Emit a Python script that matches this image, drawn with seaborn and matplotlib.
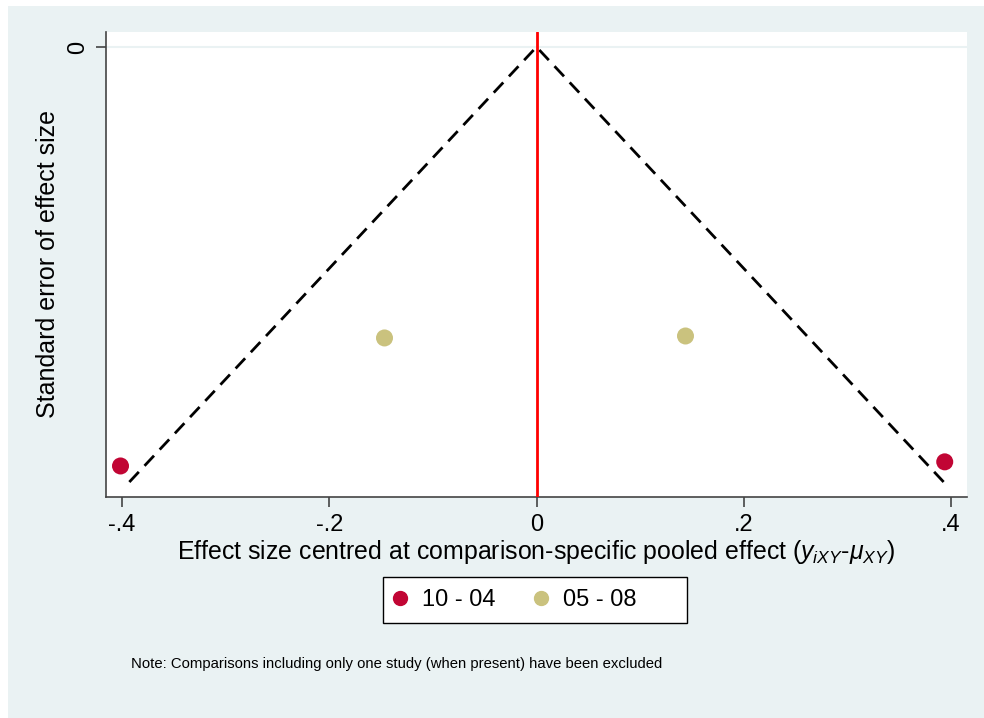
import numpy as np
import pandas as pd
import matplotlib
matplotlib.use('Agg')
import matplotlib.pyplot as plt
from matplotlib.patches import Rectangle
import seaborn as sns

# data
effect = [-0.4015, 0.394, -0.1467, 0.1438]
se = [0.1931, 0.1912, 0.1341, 0.1332]
group = ['10 - 04', '10 - 04', '05 - 08', '05 - 08']
groups = ['10 - 04', '05 - 08']
colors = ['#C10534', '#CAC27E']
se_max = 0.2005
xticks = [-0.4, -0.2, 0, 0.2, 0.4]
xticklabels = ['-.4', '-.2', '0', '.2', '.4']

sns.set_style('white')
plt.rcParams['font.family'] = ['Liberation Sans', 'DejaVu Sans']
plt.rcParams['mathtext.fontset'] = 'custom'
plt.rcParams['mathtext.rm'] = 'Liberation Sans'
plt.rcParams['mathtext.it'] = 'Liberation Sans:italic'
plt.rcParams['text.color'] = 'black'
plt.rcParams['axes.labelcolor'] = 'black'
plt.rcParams['xtick.color'] = 'black'
plt.rcParams['ytick.color'] = 'black'

df = pd.DataFrame({'effect': effect, 'se': se, 'group': group})

fig = plt.figure(figsize=(9.84, 7.18), dpi=100, facecolor='white')
fig.add_artist(Rectangle((8 / 984, 0), 1, 1 - 6 / 718, transform=fig.transFigure,
                         facecolor='#EAF2F3', edgecolor='none', zorder=-10))
ax = fig.add_axes([106 / 984, 1 - 497 / 718, 861 / 984, 465 / 718])
ax.set_facecolor('white')

# funnel lines and reference line
ax.axhline(0, color='#EAF2F3', lw=1.5, zorder=0)
ax.plot([-1.96 * se_max, 0, 1.96 * se_max], [se_max, 0, se_max],
        color='black', lw=2, ls=(0, (5, 3)), zorder=2)
ax.axvline(0, color='#FF0000', lw=2, zorder=3)

sns.scatterplot(data=df, x='effect', y='se', hue='group', hue_order=groups,
                palette=colors, s=150, edgecolor='none', ax=ax, legend=False, zorder=4)

ax.set_xlim(-0.4155, 0.4155)
ax.set_ylim(0.2074, -0.0069)
ax.set_xticks(xticks)
ax.set_xticklabels(xticklabels, fontsize=17)
ax.set_yticks([0])
ax.set_yticklabels(['0'], fontsize=17, rotation=90, va='center')
ax.tick_params(axis='both', length=7, width=1.2, color='#444444', pad=5, direction='out')
ax.tick_params(axis='x', bottom=True)
ax.tick_params(axis='y', left=True)

for s in ['top', 'right']:
    ax.spines[s].set_visible(False)
for s in ['left', 'bottom']:
    ax.spines[s].set_color('#444444')
    ax.spines[s].set_linewidth(1.2)

ax.set_xlabel(r'Effect size centred at comparison-specific pooled effect ($y_{iXY}$-$\mu_{XY}$)',
              fontsize=17.9, va='center')
ax.xaxis.set_label_coords(0.5, (497 - 552) / 465)
ax.set_ylabel('Standard error of effect size', fontsize=18, va='center')
ax.yaxis.set_label_coords((48 - 106) / 861, 0.5)

# legend box drawn as in Stata: wide frame, items to the left
fig.add_artist(Rectangle((383 / 984, 1 - 623 / 718), 304 / 984, 46 / 718,
                         transform=fig.transFigure, facecolor='white',
                         edgecolor='black', linewidth=1, zorder=1))
handles = [plt.Line2D([], [], marker='o', ls='none', color=c, markersize=10) for c in colors]
leg = fig.legend(handles, groups, loc='center left', bbox_to_anchor=(388 / 984, 1 - 600 / 718),
                 ncol=2, fontsize=17, frameon=False, handletextpad=0.45,
                 columnspacing=1.4, borderpad=0, borderaxespad=0, handlelength=1.0)
leg.set_zorder(2)

fig.text(131 / 984, 1 - 664 / 718,
         'Note: Comparisons including only one study (when present) have been excluded',
         fontsize=10.7, va='center', ha='left')

plt.savefig('out.png', dpi=100, facecolor=fig.get_facecolor())
